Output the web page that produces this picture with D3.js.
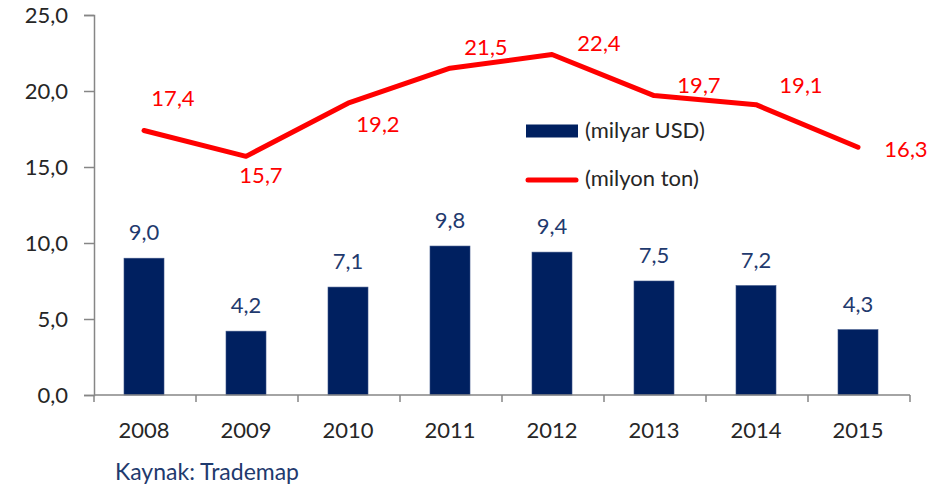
<!DOCTYPE html>
<html>
<head>
<meta charset="utf-8">
<script src="https://cdn.jsdelivr.net/npm/d3@7"></script>
<style>
  html, body { margin: 0; padding: 0; background: #fff; }
  svg { display: block; font-family: Lato, sans-serif; }
</style>
</head>
<body>
<svg id="chart" width="945" height="493"></svg>
<script>
const years = ['2008', '2009', '2010', '2011', '2012', '2013', '2014', '2015'];
const usdValues = [9.0, 4.2, 7.1, 9.8, 9.4, 7.5, 7.2, 4.3];
const tonValues = [17.4, 15.7, 19.2, 21.5, 22.4, 19.7, 19.1, 16.3];
const yTicks = [0, 5, 10, 15, 20, 25];
const legendLabels = ['(milyar USD)', '(milyon ton)'];
const sourceText = 'Kaynak: Trademap';

// hand placed label offsets for the red series (like in the original sheet)
const tonLabelDx = [29, 15, 30, 36, 47, 45, 45, 48];
const tonLabelDy = [-25, 27, 29, -13, -4, -3, -12, 10];

const navy = '#002060';
const red = '#FF0000';
const axisGrey = '#868686';
const textDark = '#262626';
const fontSize = 22;

const svg = d3.select('#chart');
const trLocale = d3.formatLocale({ decimal: ',', thousands: '.', grouping: [3], currency: ['', ''] });
const fmt = trLocale.format('.1f');

const x = d3.scaleBand().domain(years).range([94, 910]);
const y = d3.scaleLinear().domain([0, 25]).range([395, 15]);
const barWidth = 40;
const cx = d => x(d) + x.bandwidth() / 2 - 1;

// y axis
const yAxis = svg.append('g')
  .attr('transform', `translate(${x.range()[0]},0)`)
  .call(d3.axisLeft(y).tickValues(yTicks).tickSize(10).tickPadding(16).tickFormat(fmt));
yAxis.select('.domain').attr('stroke', axisGrey).attr('stroke-width', 1.5);
yAxis.selectAll('.tick line').attr('stroke', axisGrey).attr('stroke-width', 1.5);
yAxis.selectAll('.tick text')
  .attr('fill', textDark)
  .style('font-size', fontSize + 'px')
  .style('font-family', 'Lato, sans-serif');

// bars
svg.append('g')
  .selectAll('rect')
  .data(usdValues)
  .join('rect')
    .attr('x', (d, i) => cx(years[i]) - barWidth / 2)
    .attr('y', d => y(d))
    .attr('width', barWidth)
    .attr('height', d => y(0) - y(d))
    .attr('fill', navy)
    .attr('stroke', '#3b5387')
    .attr('stroke-width', 0.6);

svg.append('g')
  .selectAll('text')
  .data(usdValues)
  .join('text')
    .attr('x', (d, i) => cx(years[i]))
    .attr('y', d => y(d) - 18)
    .attr('text-anchor', 'middle')
    .attr('fill', '#1F3A6E')
    .style('font-size', fontSize + 'px')
    .text(d => fmt(d));

// x axis
const xAxis = svg.append('g').attr('transform', `translate(0,${y(0)})`);
xAxis.append('line')
  .attr('x1', x.range()[0]).attr('x2', x.range()[1])
  .attr('stroke', axisGrey).attr('stroke-width', 1.5);
xAxis.selectAll('.tk')
  .data(d3.range(years.length + 1))
  .join('line')
    .attr('class', 'tk')
    .attr('x1', i => x.range()[0] + i * x.step())
    .attr('x2', i => x.range()[0] + i * x.step())
    .attr('y1', 0).attr('y2', 7)
    .attr('stroke', axisGrey).attr('stroke-width', 1.5);
xAxis.selectAll('text')
  .data(years)
  .join('text')
    .attr('x', d => cx(d))
    .attr('y', 43)
    .attr('text-anchor', 'middle')
    .attr('fill', textDark)
    .style('font-size', fontSize + 'px')
    .text(d => d);

// red line
const line = d3.line()
  .x((d, i) => cx(years[i]))
  .y(d => y(d));

svg.append('path')
  .datum(tonValues)
  .attr('d', line)
  .attr('fill', 'none')
  .attr('stroke', red)
  .attr('stroke-width', 5)
  .attr('stroke-linejoin', 'round')
  .attr('stroke-linecap', 'round');

svg.append('g')
  .selectAll('text')
  .data(tonValues)
  .join('text')
    .attr('x', (d, i) => cx(years[i]) + tonLabelDx[i])
    .attr('y', (d, i) => y(d) + tonLabelDy[i])
    .attr('text-anchor', 'middle')
    .attr('fill', red)
    .style('font-size', fontSize + 'px')
    .text(d => fmt(d));

// legend
const legend = svg.append('g').attr('transform', 'translate(526,131)');
legend.append('rect')
  .attr('x', 0).attr('y', -6.5)
  .attr('width', 52).attr('height', 13)
  .attr('fill', navy);
legend.append('line')
  .attr('x1', 2).attr('x2', 50)
  .attr('y1', 49).attr('y2', 49)
  .attr('stroke', red).attr('stroke-width', 5)
  .attr('stroke-linecap', 'round');
legend.selectAll('text')
  .data(legendLabels)
  .join('text')
    .attr('x', 59)
    .attr('y', (d, i) => 7 + i * 48)
    .attr('fill', textDark)
    .style('font-size', fontSize + 'px')
    .text(d => d);

// source note
svg.append('text')
  .attr('x', 115)
  .attr('y', 480)
  .attr('fill', '#1F3A6E')
  .style('font-size', '23px')
  .text(sourceText);
</script>
</body>
</html>
